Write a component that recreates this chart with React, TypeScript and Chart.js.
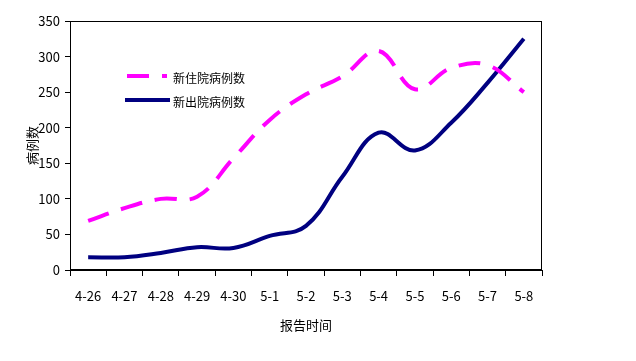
import React, { useEffect, useRef } from "react";
import { Chart, registerables } from "chart.js";

Chart.register(...registerables);

const categories = ["4-26", "4-27", "4-28", "4-29", "4-30", "5-1", "5-2", "5-3", "5-4", "5-5", "5-6", "5-7", "5-8"];
const admittedValues = [69, 87, 100, 103, 157, 211, 247, 272, 308, 254, 284, 288, 250];
const dischargedValues = [18, 18, 24, 32, 31, 48, 62, 131, 193, 168, 207, 263, 325];
const seriesLabels = ["新住院病例数", "新出院病例数"];
const xTitle = "报告时间";
const yTitle = "病例数";
const yMin = 0;
const yMax = 350;
const yStep = 50;

const FONT = "'Noto Sans CJK SC', 'Noto Sans', sans-serif";

const boxAndLegend = {
  id: "boxAndLegend",
  afterDraw(chart: any) {
    const { ctx, chartArea } = chart;
    ctx.save();
    ctx.strokeStyle = "#000";
    ctx.lineWidth = 1;
    ctx.strokeRect(chartArea.left + 0.5, chartArea.top + 0.5, chartArea.right - chartArea.left - 1, chartArea.bottom - chartArea.top - 1);

    const rows = [
      { x0: 127, x1: 167, y: 76 },
      { x0: 125, x1: 170, y: 100 },
    ];
    chart.data.datasets.forEach((ds: any, i: number) => {
      const r = rows[i];
      ctx.save();
      ctx.strokeStyle = ds.borderColor;
      ctx.lineWidth = ds.borderWidth;
      ctx.setLineDash(ds.borderDash || []);
      ctx.lineCap = "butt";
      ctx.beginPath();
      ctx.moveTo(r.x0, r.y);
      ctx.lineTo(r.x1, r.y);
      ctx.stroke();
      ctx.restore();
      ctx.fillStyle = "#000";
      ctx.font = `12px ${FONT}`;
      ctx.textBaseline = "middle";
      ctx.textAlign = "left";
      ctx.fillText(ds.label, 173, r.y + 2);
    });
    ctx.restore();
  },
};

export default function App() {
  const ref = useRef<HTMLCanvasElement | null>(null);

  useEffect(() => {
    if (!ref.current) return;
    const chart = new Chart(ref.current, {
      type: "line",
      data: {
        labels: categories,
        datasets: [
          {
            label: seriesLabels[0],
            data: admittedValues,
            borderColor: "#FF00FF",
            backgroundColor: "#FF00FF",
            borderWidth: 4,
            borderDash: [22, 13],
            pointRadius: 0,
            tension: 0.4,
            fill: false,
          },
          {
            label: seriesLabels[1],
            data: dischargedValues,
            borderColor: "#000080",
            backgroundColor: "#000080",
            borderWidth: 4,
            pointRadius: 0,
            tension: 0.4,
            fill: false,
          },
        ],
      },
      options: {
        responsive: false,
        animation: false,
        layout: { padding: { left: 20, right: 94, top: 21, bottom: 0 } },
        plugins: {
          legend: { display: false },
          tooltip: { enabled: false },
        },
        scales: {
          x: {
            type: "category",
            offset: true,
            grid: { offset: true, drawOnChartArea: false, tickLength: 6, color: "#000" },
            border: { color: "#000" },
            ticks: { color: "#000", font: { family: FONT, size: 13 }, padding: 12, maxRotation: 0, autoSkip: false },
            title: { display: true, text: xTitle, color: "#000", font: { family: FONT, size: 13 }, padding: { top: 10, bottom: 28 } },
            afterFit(s: any) { s.height = 91; },
          },
          y: {
            min: yMin,
            max: yMax,
            grid: { drawOnChartArea: false, tickLength: 5, color: "#000" },
            border: { color: "#000" },
            ticks: { stepSize: yStep, color: "#000", font: { family: FONT, size: 13 }, padding: 5 },
            title: { display: true, text: yTitle, color: "#000", font: { family: FONT, size: 13 }, padding: { top: 4, bottom: 0 } },
            afterFit(s: any) { s.width = 50; },
          },
        },
      },
      plugins: [boxAndLegend],
    } as any);
    return () => chart.destroy();
  }, []);

  return (
    <div style={{ position: "absolute", left: 0, top: 0, width: 636, height: 361, background: "#fff" }}>
      <canvas ref={ref} width={636} height={361} style={{ width: 636, height: 361 }} />
    </div>
  );
}
